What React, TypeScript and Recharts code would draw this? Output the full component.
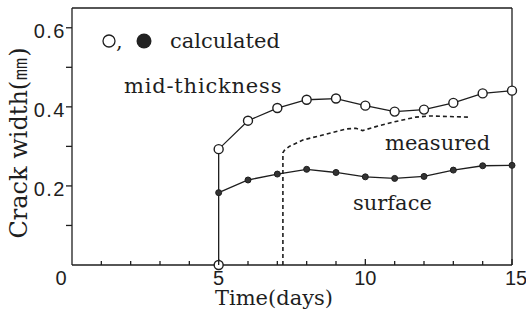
import React from 'react';
import { LineChart, Line, XAxis, YAxis, ReferenceLine, Customized } from 'recharts';

// calculated, mid-thickness (open circles); first point is the drop to zero at day 5
const midDays = [5, 5, 6, 7, 8, 9, 10, 11, 12, 13, 14, 15];
const midWidth = [0, 0.293, 0.365, 0.397, 0.418, 0.421, 0.403, 0.388, 0.393, 0.41, 0.434, 0.441];

// calculated, surface (filled circles)
const surfDays = [5, 6, 7, 8, 9, 10, 11, 12, 13, 14, 15];
const surfWidth = [0.183, 0.215, 0.23, 0.242, 0.234, 0.223, 0.219, 0.224, 0.24, 0.251, 0.252];

// measured (dashed)
const measDays = [7.19, 7.19, 7.24, 7.41, 7.87, 8.55, 9.34, 9.68, 9.91, 10.36, 11.04, 11.72, 12.18, 13.53];
const measWidth = [0, 0.284, 0.29, 0.3, 0.316, 0.329, 0.344, 0.346, 0.34, 0.35, 0.363, 0.374, 0.377, 0.374];

const xTicks = [0, 1, 2, 3, 4, 5, 6, 7, 8, 9, 10, 11, 12, 13, 14, 15];
const xLabels = [0, 5, 10, 15];
const yTicks = [0.1, 0.2, 0.3, 0.4, 0.5, 0.6];
const yLabels = ['0.2', '0.4', '0.6'];

const ink = '#1e1e1e';
const serif = '"DejaVu Serif", serif';
const sans = '"Liberation Sans", Arial, sans-serif';

const midData = midDays.map((t, i) => ({ t, v: midWidth[i] }));
const surfData = surfDays.map((t, i) => ({ t, v: surfWidth[i] }));
const measData = measDays.map((t, i) => ({ t, v: measWidth[i] }));

const YTick = (props: any) => {
  const { x, y, payload } = props;
  const label = payload.value.toFixed(1);
  return (
    <g>
      <line x1={x - 6} y1={y} x2={x} y2={y} stroke={ink} strokeWidth={1.3} />
      {yLabels.includes(label) && (
        <text x={x - 6} y={y + 10} textAnchor="end" fontFamily={sans} fontSize={20} letterSpacing={1.5} fill={ink}>
          {label}
        </text>
      )}
    </g>
  );
};

const XTick = (props: any) => {
  const { x, y, payload } = props;
  const v = payload.value;
  const major = v % 5 === 0;
  return (
    <g>
      {v > 0 && <line x1={x} y1={y} x2={x} y2={y - (major ? 6 : 4)} stroke={ink} strokeWidth={1.3} />}
      {xLabels.includes(v) && (
        <text x={v === 0 ? x - 11 : v === 15 ? x + 4 : x} y={y + 20} textAnchor="middle" fontFamily={sans} fontSize={20} fill={ink}>
          {v}
        </text>
      )}
    </g>
  );
};

const Notes = () => (
  <g fill={ink}>
    <circle cx={109} cy={41} r={6} fill="#fff" stroke={ink} strokeWidth={1.3} />
    <text x={116} y={48} fontFamily={serif} fontSize={21}>,</text>
    <circle cx={144} cy={41} r={7.5} fill="#222" />
    <text x={170} y={48} fontFamily={serif} fontSize={21}>calculated</text>
    <text x={124} y={93} fontFamily={serif} fontSize={21} letterSpacing={0.8}>mid-thickness</text>
    <text x={385} y={150} fontFamily={serif} fontSize={21}>measured</text>
    <text x={353} y={210} fontFamily={serif} fontSize={21}>surface</text>
    <text x={274} y={305} textAnchor="middle" fontFamily={serif} fontSize={21}>Time(days)</text>
    <text x={0} y={0} transform="translate(19,143) rotate(-90)" textAnchor="middle" dominantBaseline="central" fontFamily={serif} fontSize={24}>
      Crack width(㎜)
    </text>
  </g>
);

export default function App() {
  return (
    <div style={{ position: 'absolute', left: 0, top: 0, width: 526, height: 322, background: '#fff' }}>
      <LineChart width={526} height={322} margin={{ top: 8, right: 14, left: 0, bottom: 0 }}>
        <XAxis
          dataKey="t"
          type="number"
          domain={[0, 15]}
          ticks={xTicks}
          interval={0}
          height={57}
          tickSize={0}
          tickMargin={0}
          tick={<XTick />}
          axisLine={{ stroke: ink, strokeWidth: 1.3 }}
          allowDuplicatedCategory={false}
        />
        <YAxis
          type="number"
          domain={[0, 0.65]}
          ticks={yTicks}
          interval={0}
          width={72}
          tickSize={0}
          tickMargin={0}
          tick={<YTick />}
          axisLine={{ stroke: ink, strokeWidth: 1.3 }}
        />
        <ReferenceLine y={0.65} stroke={ink} strokeWidth={1.3} />
        <ReferenceLine x={15} stroke={ink} strokeWidth={1.3} />
        <Line
          data={measData}
          dataKey="v"
          type="linear"
          stroke={ink}
          strokeWidth={1.6}
          strokeDasharray="4 3"
          dot={false}
          isAnimationActive={false}
        />
        <Line
          data={surfData}
          dataKey="v"
          type="linear"
          stroke={ink}
          strokeWidth={1.3}
          dot={{ r: 3, fill: '#333', stroke: ink, strokeWidth: 1 }}
          isAnimationActive={false}
        />
        <Line
          data={midData}
          dataKey="v"
          type="linear"
          stroke={ink}
          strokeWidth={1.3}
          dot={{ r: 4.5, fill: '#fff', stroke: ink, strokeWidth: 1.4 }}
          isAnimationActive={false}
        />
        <Customized component={Notes} />
      </LineChart>
    </div>
  );
}
